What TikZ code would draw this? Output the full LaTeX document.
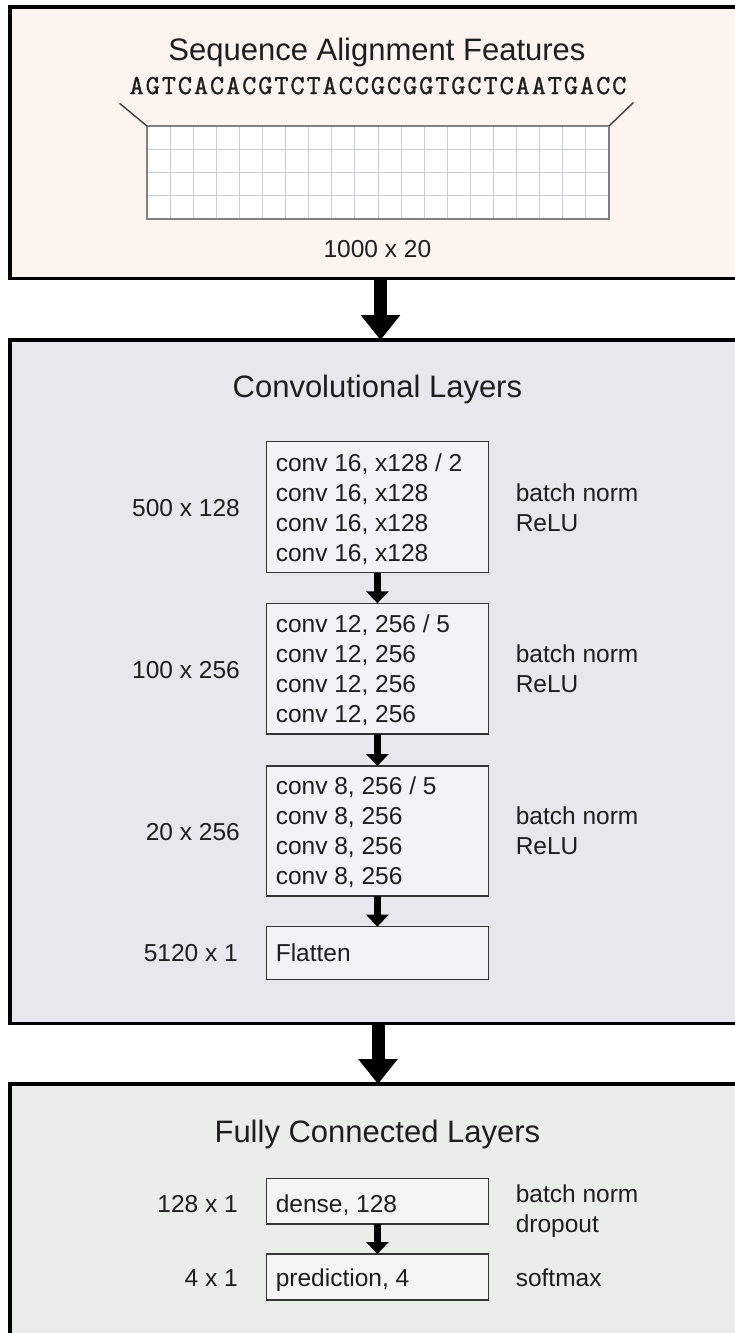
\documentclass[tikz,border=0pt]{standalone}
\usepackage{fontspec}
\setmainfont{Liberation Sans}
\newfontfamily\seqfont{Latin Modern Mono}[LetterSpace=7,FakeBold=1.2]
\usetikzlibrary{arrows.meta}

\definecolor{inbg}{HTML}{FDF4F0}
\definecolor{convbg}{HTML}{E6E8ED}
\definecolor{densebg}{HTML}{EAEEE9}
\definecolor{convbox}{HTML}{F2F3F7}
\definecolor{densebox}{HTML}{F4F6F3}
\definecolor{ink}{HTML}{1E1E1E}
\definecolor{gridln}{HTML}{C8CDD6}
\definecolor{gridfr}{HTML}{808080}

\newcommand\ttlsz{\fontsize{31pt}{36pt}\selectfont}
\newcommand\txtsz{\fontsize{24.5pt}{30pt}\selectfont}

\begin{document}
\begin{tikzpicture}[x=1pt,y=-1pt,
  panel/.style={draw=black, line width=3.5pt, inner sep=0pt, outer sep=0pt,
                minimum width=750.2pt},
  layer/.style={draw=ink!90, line width=1.3pt, inner sep=0pt, outer sep=0pt,
                minimum width=222.2pt},
  title/.style={anchor=base, text=ink, font=\ttlsz, inner sep=0pt},
  txt/.style={text=ink, font=\txtsz, inner sep=0pt},
  bigarrow/.style={line width=13pt, -{Triangle[width=38pt,length=25pt]}},
  smallarrow/.style={line width=7.7pt, -{Triangle[width=22pt,length=12pt]}},
  gridline/.style={draw=gridln, line width=0.9pt},
  slant/.style={draw=ink!85, line width=1.4pt}
]
\useasboundingbox (0,0) rectangle (735,1333);
\clip (0,0) rectangle (735,1333);
\fill[white] (0,0) rectangle (735,1333);

% ---------- the three panels ----------
\node[panel, fill=inbg,    minimum height=271.3pt] (p1) at (384.9,142.65) {};
\node[panel, fill=convbg,  minimum height=683.3pt] (p2) at (384.9,681.65) {};
\node[panel, fill=densebg, minimum height=316pt]   (p3) at (384.9,1242) {};

\draw[bigarrow] ([xshift=-4.4pt]p1.south) -- ([xshift=-4.4pt]p2.north);
\draw[bigarrow] ([xshift=-6.9pt]p2.south) -- ([xshift=-6.9pt]p3.north);

% ---------- input features ----------
\node[title] (t1) at (377,60) {Sequence Alignment Features};
\node[anchor=base, inner sep=0pt, text=ink] (seq) at (378,94)
  {\seqfont\fontsize{27.5pt}{30pt}\selectfont AGTCACACGTCTACCGCGGTGCTCAATGACC};

\node[fill=white, inner sep=0pt, outer sep=0pt, minimum width=462pt,
      minimum height=93pt] (grid) at (378,172.5) {};
\foreach \i in {1,...,19}
  \draw[gridline] ([xshift=\i*23.1pt]grid.north west) -- ([xshift=\i*23.1pt]grid.south west);
\foreach \j in {1,2,3}
  \draw[gridline] ([yshift=-\j*23.25pt]grid.north west) -- ([yshift=-\j*23.25pt]grid.north east);
\draw[draw=gridfr, line width=1.5pt] (grid.north west) rectangle (grid.south east);

\coordinate (sl) at (119.5,103.3);
\coordinate (sr) at (633.5,102.5);
\draw[slant] (sl) -- (grid.north west);
\draw[slant] (sr) -- (grid.north east);

\node[txt, anchor=base] (dim0) at (377.4,257) {1000 x 20};

% ---------- convolutional layers ----------
\node[title] (t2) at (377.4,397) {Convolutional Layers};

\node[layer, fill=convbox, minimum height=131pt]   (b1) at (377.4,507.2) {};
\node[layer, fill=convbox, minimum height=130.7pt] (b2) at (377.4,668.65) {};
\node[layer, fill=convbox, minimum height=130pt]   (b3) at (377.4,831) {};
\node[layer, fill=convbox, minimum height=52.6pt]  (fl) at (377.4,953) {};

\foreach \t [count=\k] in {{conv 16, x128 / 2},{conv 16, x128},{conv 16, x128},{conv 16, x128}}
  \node[txt, anchor=base west] (b1l\k) at (275.6,{471+30*(\k-1)}) {\t};
\foreach \t [count=\k] in {{conv 12, 256 / 5},{conv 12, 256},{conv 12, 256},{conv 12, 256}}
  \node[txt, anchor=base west] (b2l\k) at (275.6,{632.6+30*(\k-1)}) {\t};
\foreach \t [count=\k] in {{conv 8, 256 / 5},{conv 8, 256},{conv 8, 256},{conv 8, 256}}
  \node[txt, anchor=base west] (b3l\k) at (275.6,{794.6+30*(\k-1)}) {\t};
\node[txt, anchor=base west] (fll) at (275.6,961.6) {Flatten};

\node[txt, anchor=base east] (s1) at (240,516.6) {500 x 128};
\node[txt, anchor=base east] (s2) at (240,678.3) {100 x 256};
\node[txt, anchor=base east] (s3) at (240,840)   {20 x 256};
\node[txt, anchor=base east] (s4) at (238,961.3) {5120 x 1};

\node[txt, anchor=base west] (n1) at (515.6,501.3) {batch norm};
\node[txt, anchor=base west] (r1) at (515.6,531.3) {ReLU};
\node[txt, anchor=base west] (n2) at (515.6,662.6) {batch norm};
\node[txt, anchor=base west] (r2) at (515.6,692.6) {ReLU};
\node[txt, anchor=base west] (n3) at (515.6,824.8) {batch norm};
\node[txt, anchor=base west] (r3) at (515.6,854.8) {ReLU};

\draw[smallarrow] (b1.south) -- (b2.north);
\draw[smallarrow] (b2.south) -- (b3.north);
\draw[smallarrow] (b3.south) -- (fl.north);

% ---------- fully connected layers ----------
\node[title] (t3) at (377.4,1142) {Fully Connected Layers};

\node[layer, fill=densebox, minimum height=45.7pt] (d1) at (377.4,1201.15) {};
\node[layer, fill=densebox, minimum height=46pt]   (d2) at (377.4,1277) {};
\node[txt, anchor=base west] (d1l) at (275.6,1212.3) {dense, 128};
\node[txt, anchor=base west] (d2l) at (275.6,1286.6) {prediction, 4};

\node[txt, anchor=base east] (s5) at (238,1212.3) {128 x 1};
\node[txt, anchor=base east] (s6) at (238,1286.6) {4 x 1};

\node[txt, anchor=base west] (n4) at (515.6,1202.6) {batch norm};
\node[txt, anchor=base west] (o4) at (515.6,1232.6) {dropout};
\node[txt, anchor=base west] (sm) at (515.6,1286.6) {softmax};

\draw[smallarrow] (d1.south) -- (d2.north);
\end{tikzpicture}
\end{document}
